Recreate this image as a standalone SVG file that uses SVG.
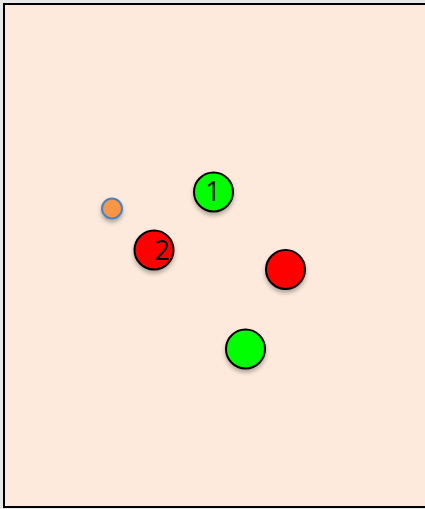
<svg xmlns="http://www.w3.org/2000/svg" width="425" height="509" viewBox="0 0 425 509">
<defs>
<filter id="sh" x="-50%" y="-50%" width="200%" height="200%">
<feGaussianBlur in="SourceAlpha" stdDeviation="2"/>
<feOffset dx="0" dy="3"/>
<feComponentTransfer><feFuncA type="linear" slope="0.3"/></feComponentTransfer>
<feMerge><feMergeNode/><feMergeNode in="SourceGraphic"/></feMerge>
</filter>
</defs>
<style>
.n{stroke:#000;stroke-width:2;filter:url(#sh)}
.g{fill:#00FF00}
.r{fill:#FF0000}
.t{font-family:"Open Sans","Liberation Sans",Arial,sans-serif;font-size:27px;fill:#000;text-anchor:middle}
</style>
<rect x="0" y="0" width="425" height="509" fill="#E8E8E8"/>
<rect x="4" y="4" width="424" height="503" fill="#FDEADC" stroke="#000" stroke-width="2"/>
<g id="connectors"></g>
<g id="node-orange"><circle cx="112" cy="208.5" r="10" fill="#F79646" stroke="#4F81BD" stroke-width="2" filter="url(#sh)"/></g>
<g id="node-1"><circle class="n g" cx="213.5" cy="192" r="19.5"/><text class="t" x="213" y="201">1</text></g>
<g id="node-2"><circle class="n r" cx="154" cy="250" r="19.5"/><text class="t" x="162" y="259.5">2</text></g>
<g id="node-3"><circle class="n r" cx="285.5" cy="269.5" r="19.5"/></g>
<g id="node-4"><circle class="n g" cx="245.5" cy="349" r="19.5"/></g>
</svg>
